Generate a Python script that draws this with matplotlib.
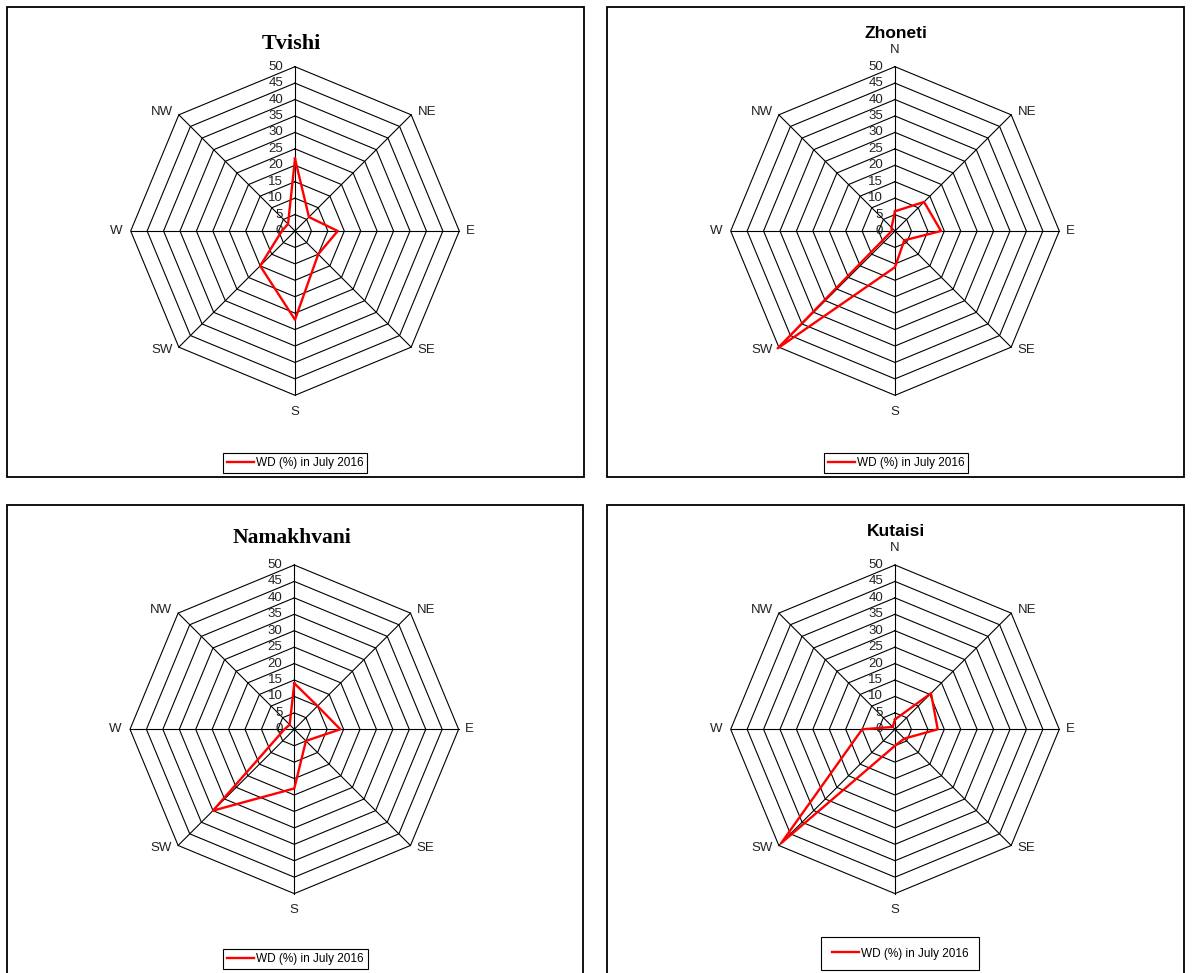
import matplotlib
matplotlib.use("Agg")
import matplotlib.pyplot as plt
from matplotlib.patches import Rectangle
import numpy as np

plt.rcParams['font.family'] = ['Liberation Sans', 'DejaVu Sans']

# wind direction frequency (%) per station
directions = ["N", "NE", "E", "SE", "S", "SW", "W", "NW"]
rings = list(range(0, 55, 5))
series_label = "WD (%) in July 2016"

tvishi = [22, 6, 13, 10, 27, 15, 4, 3]
zhoneti = [6, 12.5, 14, 4, 11, 50.5, 1, 1.5]
namakhvani = [14, 10, 14, 5, 18, 35, 3, 2]
kutaisi = [3, 15.5, 13, 4, 5, 49, 10, 1]

W, H = 1192, 973
fig = plt.figure(figsize=(W / 100, H / 100), dpi=100)


def fx(x):
    return x / W


def fy(y):
    return 1 - y / H


# label offsets (points) for the compass names around the outer ring
label_offsets = {
    "N": ((0, 12), "center", "center"),
    "NE": ((4.5, 2), "left", "center"),
    "E": ((4.5, 0), "left", "center"),
    "SE": ((4.5, -2), "left", "center"),
    "S": ((0, -12), "center", "center"),
    "SW": ((-4.5, -2), "right", "center"),
    "W": ((-6, 0), "right", "center"),
    "NW": ((-4.5, 2), "right", "center"),
}


def wind_rose(values, title, center, radius, title_pos, title_style,
              legend_pos, legend_pad, show_north=True):
    cx, cy = center
    rect = [fx(cx - radius), fy(cy + radius), 2 * radius / W, 2 * radius / H]
    ax = fig.add_axes(rect, projection="polar")
    ax.set_theta_zero_location("N")
    ax.set_theta_direction(-1)
    ax.set_ylim(0, rings[-1])
    ax.axis("off")

    theta = np.deg2rad(np.arange(len(directions)) * 45.0)
    theta_c = np.append(theta, theta[0])

    # octagonal grid rings and spokes
    for r in rings[1:]:
        ax.plot(theta_c, [r] * len(theta_c), color="black", lw=0.8, clip_on=False)
    for t in theta:
        ax.plot([t, t], [0, rings[-1]], color="black", lw=0.8, clip_on=False)

    vals = np.append(values, values[0])
    line, = ax.plot(theta_c, vals, color="#ff0000", lw=1.7, clip_on=False,
                    label=series_label, zorder=5)

    for r in rings:
        ax.annotate(str(r), xy=(0, r), xytext=(-8.5, 0), textcoords="offset points",
                    ha="right", va="center", fontsize=9.5, color="#222222")
    for t, d in zip(theta, directions):
        if d == "N" and not show_north:
            continue  # title sits where the N label would go
        off, ha, va = label_offsets[d]
        ax.annotate(d, xy=(t, rings[-1]), xytext=off, textcoords="offset points",
                    ha=ha, va=va, fontsize=9.5, color="#222222")

    fig.text(fx(title_pos[0]), fy(title_pos[1]), title, ha="center", va="center",
             zorder=10, **title_style)

    leg = ax.legend(handles=[line], loc="center",
                    bbox_to_anchor=(fx(legend_pos[0]), fy(legend_pos[1])),
                    bbox_transform=fig.transFigure, fontsize=8.5, frameon=True,
                    fancybox=False, edgecolor="black", framealpha=1,
                    handlelength=2.3, handletextpad=0.15,
                    borderpad=legend_pad, borderaxespad=0)
    leg.get_frame().set_linewidth(0.8)


serif_title = dict(family=["Liberation Serif", "DejaVu Serif"], fontweight="bold",
                   fontsize=16)
serif_title2 = dict(serif_title, fontsize=15.5)
sans_title = dict(fontweight="bold", fontsize=12.5)

# panel frames
for x0, y0, x1, y1 in [(7, 7, 584, 477), (607, 7, 1184, 477),
                       (7, 505, 583, 1010), (607, 505, 1184, 1010)]:
    fig.add_artist(Rectangle((fx(x0), fy(y1)), (x1 - x0) / W, (y1 - y0) / H,
                             transform=fig.transFigure, fill=False,
                             edgecolor="black", lw=1.3))

R = 164.3
wind_rose(tvishi, "Tvishi", (295, 231), R, (291, 44), serif_title,
          (295, 463), 0.35, show_north=False)
wind_rose(zhoneti, "Zhoneti", (895, 231), R, (896, 33), sans_title,
          (896, 463), 0.35)
wind_rose(namakhvani, "Namakhvani", (294.3, 729.3), R, (292, 538), serif_title2,
          (295.5, 959), 0.35, show_north=False)
wind_rose(kutaisi, "Kutaisi", (895, 729.3), R, (896, 531), sans_title,
          (900, 953.5), 0.9)

fig.savefig("out.png", dpi=100, facecolor="white")
